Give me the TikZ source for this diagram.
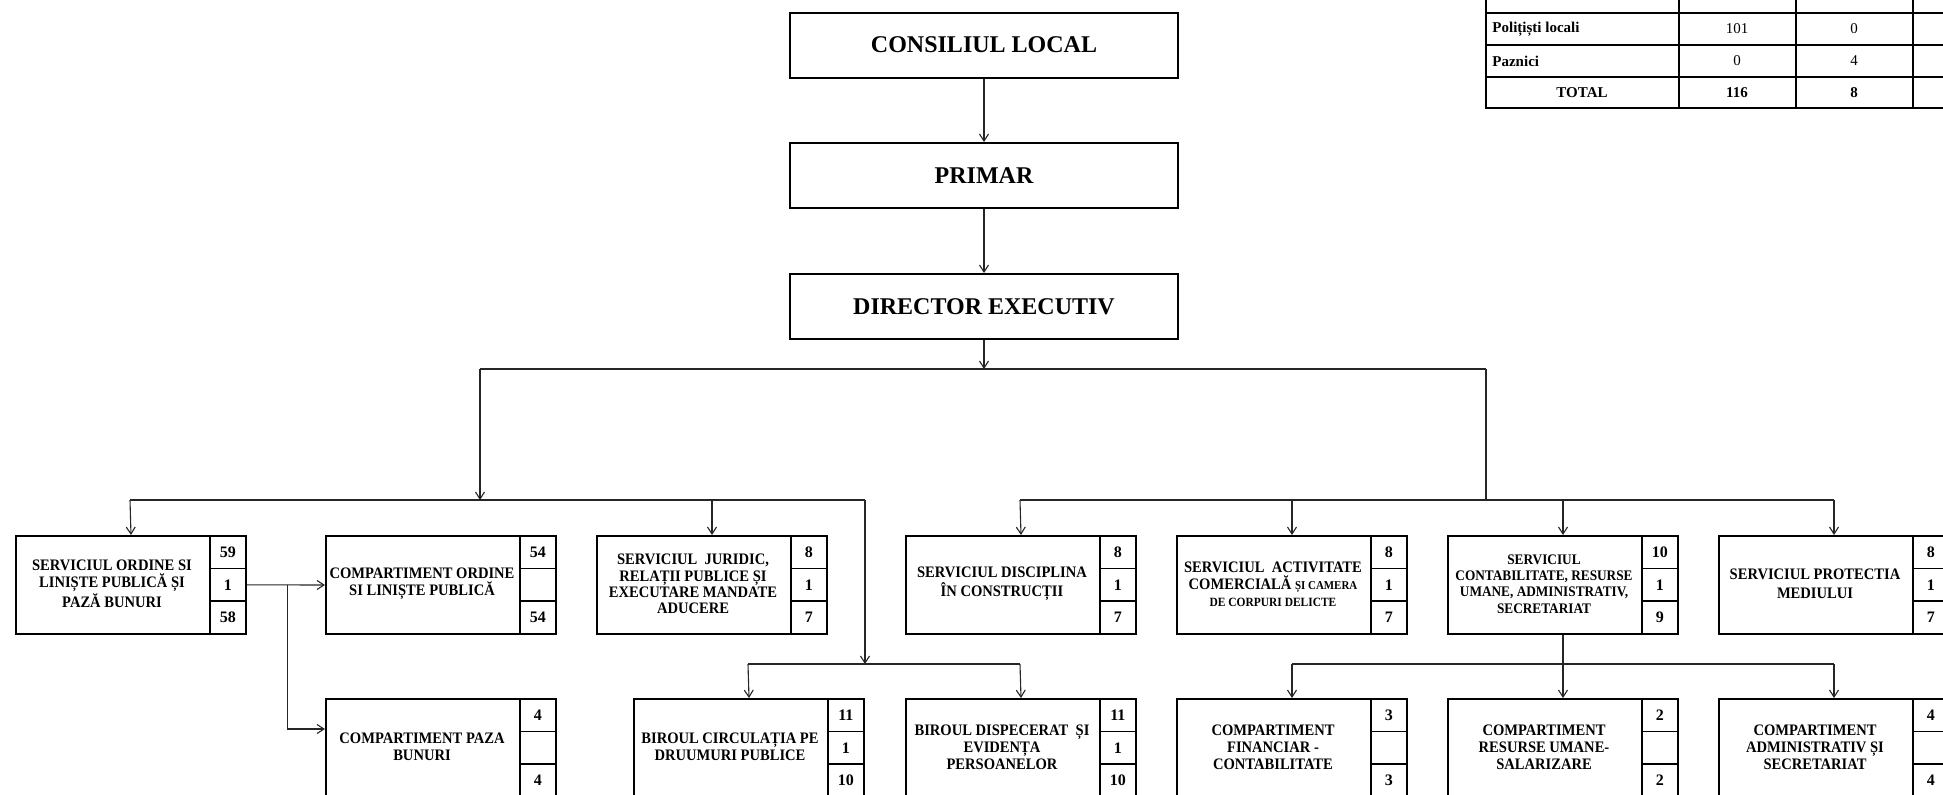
\documentclass[tikz,border=0pt]{standalone}
\usepackage{fontspec}
\setmainfont{Liberation Serif}
\newfontfamily\nar{Liberation Serif}[FakeStretch=0.91]
\usetikzlibrary{arrows.meta,calc}
\newcommand\orgunit[8][]{%
  \node[ubox] (#2) at (#3,#4) {};
  \node[utext,#1] (#2t) at (#3+97,#4+49) {#5};
  \node[ncell] (#2a) at (#3+194,#4) {#6};
  \node[ncell] (#2b) at (#3+194,#4+32.67) {#7};
  \node[ncell] (#2c) at (#3+194,#4+65.33) {#8};
}
\begin{document}
\begin{tikzpicture}[x=0.5pt,y=-0.5pt,
  conn/.style={line width=0.55pt, draw=black!85},
  arr/.style={-{Straight Barb[length=3.5pt,width=4.5pt]}},
  topbox/.style={draw, line width=1pt, minimum width=194pt, minimum height=32.5pt, inner sep=0, font=\bfseries\fontsize{12}{14}\selectfont},
  ubox/.style={draw, line width=1pt, minimum width=115pt, minimum height=49pt, inner sep=0, anchor=north west},
  utext/.style={align=center, inner sep=0, font=\nar\bfseries\fontsize{8}{8.6}\selectfont},
  ncell/.style={draw, line width=0.8pt, minimum width=18pt, minimum height=16.33pt, inner sep=0, anchor=north west, font=\bfseries\fontsize{8}{9}\selectfont},
  tline/.style={line width=0.7pt},
  tlabel/.style={inner sep=0, font=\bfseries\fontsize{7.5}{8}\selectfont},
  tnum/.style={inner sep=0, font=\fontsize{7.5}{8}\selectfont},
]
\useasboundingbox[fill=white] (0,0) rectangle (1943,794);
\clip (0,0) rectangle (1943,794);

% top hierarchy
\node[topbox] (cl) at (984,45) {CONSILIUL LOCAL};
\node[topbox] (pr) at (984,175.5) {PRIMAR};
\node[topbox] (de) at (984,306.5) {DIRECTOR EXECUTIV};

% first row of units
\orgunit{u1}{15}{535}{SERVICIUL ORDINE SI\\LINIȘTE PUBLICĂ ȘI\\PAZĂ BUNURI}{59}{1}{58}
\orgunit{u2}{325}{535}{COMPARTIMENT ORDINE\\SI LINIȘTE PUBLICĂ}{54}{}{54}
\orgunit[font=\nar\bfseries\fontsize{8}{8.2}\selectfont]{u3}{596}{535}{SERVICIUL\ \ JURIDIC,\\RELAȚII PUBLICE ȘI\\EXECUTARE MANDATE\\ADUCERE}{8}{1}{7}
\orgunit[font=\nar\bfseries\fontsize{8}{9.3}\selectfont]{u4}{905}{535}{SERVICIUL DISCIPLINA\\ÎN CONSTRUCȚII}{8}{1}{7}
\orgunit{u5}{1176}{535}{SERVICIUL\ \ ACTIVITATE\\COMERCIALĂ {\fontsize{6}{7}\selectfont ȘI CAMERA}\\{\fontsize{6.3}{7}\selectfont DE CORPURI DELICTE}}{8}{1}{7}
\orgunit[font=\nar\bfseries\fontsize{7.3}{8.1}\selectfont]{u6}{1447}{535}{SERVICIUL\\CONTABILITATE, RESURSE\\UMANE, ADMINISTRATIV,\\SECRETARIAT}{10}{1}{9}
\orgunit[font=\nar\bfseries\fontsize{8}{9.3}\selectfont]{u7}{1718}{535}{SERVICIUL PROTECTIA\\MEDIULUI}{8}{1}{7}

% second row of units
\orgunit{v1}{325}{698}{COMPARTIMENT PAZA\\BUNURI}{4}{}{4}
\orgunit{v2}{633}{698}{BIROUL CIRCULAȚIA PE\\DRUUMURI PUBLICE}{11}{1}{10}
\orgunit{v3}{905}{698}{BIROUL DISPECERAT\ \ ȘI\\EVIDENȚA\\PERSOANELOR}{11}{1}{10}
\orgunit{v4}{1176}{698}{COMPARTIMENT\\FINANCIAR -\\CONTABILITATE}{3}{}{3}
\orgunit{v5}{1447}{698}{COMPARTIMENT\\RESURSE UMANE-\\SALARIZARE}{2}{}{2}
\orgunit{v6}{1718}{698}{COMPARTIMENT\\ADMINISTRATIV ȘI\\SECRETARIAT}{4}{}{4}

% bus coordinates
\coordinate (bL) at (480,369);
\coordinate (bR) at (1486,369);
\coordinate (lL) at (130,500);
\coordinate (lR) at (865,500);
\coordinate (rL) at (1020,500);
\coordinate (rR) at (1834,500);
\coordinate (sL) at (748,664);
\coordinate (sR) at (1020,664);
\coordinate (tY) at (1563,664);

% connectors
\draw[conn,arr] (cl.south) -- (pr.north);
\draw[conn,arr] (pr.south) -- (de.north);
\draw[conn,arr] (de.south) -- (de.south |- bL);
\draw[conn] (bL) -- (bR);
\draw[conn,arr] (bL) -- (bL |- lL);
\draw[conn] (bR) -- (bR |- rL);

\draw[conn] (lL) -- (lR);
\draw[conn,arr] (lL) -- (u1.north);
\draw[conn,arr] (u3.north |- lL) -- (u3.north);
\draw[conn,arr] (lR) -- (lR |- sL);
\draw[conn] (sL) -- (sR);
\draw[conn,arr] (sL) -- (v2.north);
\draw[conn,arr] (sR) -- (v3.north);

\draw[conn] (rL) -- (rR);
\draw[conn,arr] (rL) -- (u4.north);
\draw[conn,arr] (u5.north |- rL) -- (u5.north);
\draw[conn,arr] (u6.north |- rL) -- (u6.north);
\draw[conn,arr] (rR) -- (u7.north);

\draw[conn,arr] (u6.south) -- (v5.north);
\draw[conn] (v4.north |- tY) -- (v6.north |- tY);
\draw[conn,arr] (v4.north |- tY) -- (v4.north);
\draw[conn,arr] (v6.north |- tY) -- (v6.north);

\coordinate (j1) at ($(u1b.east)+(41,0)$);
\draw[conn,arr] (u1b.east) -- (u2.west);
\draw[conn,arr] (j1) |- ($(v1.north west)+(0,31)$);

% staff table (top right, partly cut off)
\draw[tline] (1486,0) -- (1486,108) -- (1943,108);
\foreach \yy in {13,45,77} \draw[tline] (1486,\yy) -- (1943,\yy);
\foreach \xx in {1679,1796,1913} \draw[tline] (\xx,0) -- (\xx,108);
\node[tlabel, anchor=west] (tp) at (1492,29) {Polițiști locali};
\node[tlabel, anchor=west] (tz) at (1492,61) {Paznici};
\node[tlabel] (tt) at (1582,93) {TOTAL};
\node[tnum] (n11) at (1737,29) {101};
\node[tnum] (n12) at (1854,29) {0};
\node[tnum] (n21) at (1737,61) {0};
\node[tnum] (n22) at (1854,61) {4};
\node[tlabel] (n31) at (1737,93) {116};
\node[tlabel] (n32) at (1854,93) {8};
\end{tikzpicture}
\end{document}
